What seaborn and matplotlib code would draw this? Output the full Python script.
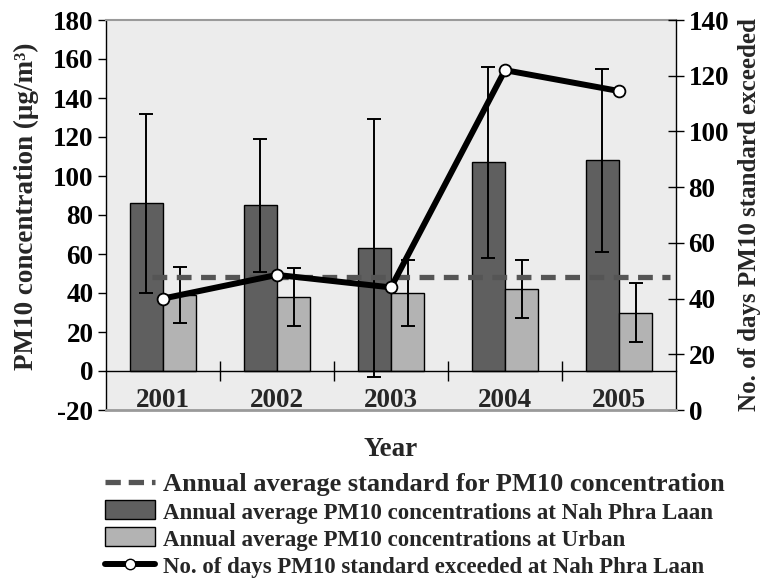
import matplotlib
matplotlib.use("Agg")
import matplotlib.pyplot as plt
import seaborn as sns
import numpy as np
import pandas as pd
from matplotlib.lines import Line2D
from matplotlib.patches import Patch

years = ["2001", "2002", "2003", "2004", "2005"]
nah_mean = [86, 85, 63, 107, 108]
nah_err = [46, 34, 66, 49, 47]
urban_mean = [39, 38, 40, 42, 30]
urban_err = [14.5, 15, 17, 15, 15]
days_exceeded = [40, 48.5, 44, 122, 114.5]
standard = 48

series_names = ["Annual average PM10 concentrations at Nah Phra Laan",
                "Annual average PM10 concentrations at Urban"]
std_label = "Annual average standard for PM10 concentration"
line_label = "No. of days PM10 standard exceeded at Nah Phra Laan"

sns.set_theme(style="white")
plt.rcParams['font.family'] = ['Liberation Serif', 'DejaVu Serif']
plt.rcParams['font.weight'] = 'bold'

dark = '#5f5f5f'
light = '#b3b3b3'

df = pd.DataFrame({
    "Year": years * 2,
    "value": nah_mean + urban_mean,
    "series": [series_names[0]] * 5 + [series_names[1]] * 5,
})

fig = plt.figure(figsize=(7.67, 5.88), dpi=100)
ax = fig.add_axes([106/767, 1-410/588, (676-106)/767, (410-20)/588])
ax.set_facecolor('#ececec')

sns.barplot(data=df, x="Year", y="value", hue="series", order=years,
            hue_order=series_names, palette=[dark, light], width=0.58,
            gap=0, errorbar=None, edgecolor='black', linewidth=1,
            ax=ax, legend=False, zorder=2)

patches = [p for p in ax.patches]
errs = nah_err + urban_err
means = nah_mean + urban_mean
for p, m, e in zip(patches, means, errs):
    cx = p.get_x() + p.get_width() / 2
    ax.errorbar(cx, m, yerr=e, color='black', lw=1.4, capsize=4.7,
                capthick=1.4, zorder=3)

ax.plot([-0.1, 4.45], [standard, standard], ls=(0, (2.8, 1.8)),
        color='#555555', lw=3.8, zorder=4)

ax.set_ylim(-20, 180)
ax.set_xlim(-0.5, 4.5)
ax.set_yticks(np.arange(-20, 181, 20))
ax.set_yticklabels([str(v) for v in range(-20, 181, 20)])
ax.tick_params(axis='y', which='major', direction='out', length=6, width=1,
               labelsize=19.5, pad=3, left=True, colors='black')
ax.spines['bottom'].set_position(('data', 0))
ax.spines['bottom'].set_color('black')
ax.spines['bottom'].set_linewidth(1)
ax.spines['left'].set_color('black')
ax.spines['left'].set_linewidth(1)
ax.spines['right'].set_visible(False)
ax.spines['top'].set_color('#9a9a9a')
ax.spines['top'].set_linewidth(1.5)

ax.set_xticks(range(5))
ax.set_xticklabels(years)
ax.set_xticks([0.5, 1.5, 2.5, 3.5], minor=True)
ax.tick_params(axis='x', which='major', length=0, pad=12, labelsize=19.5)
ax.tick_params(axis='x', which='minor', direction='inout', length=14,
               width=1, bottom=True, color='black')
ax.set_xlabel("Year", fontsize=19.5, fontweight='bold')
ax.xaxis.set_label_coords(0.5, -0.07)
ax.set_ylabel("PM10 concentration (μg/m³)", fontsize=19.5, fontweight='bold')
ax.yaxis.set_label_coords(-0.117, 0.523)

ax2 = ax.twinx()
sns.lineplot(x=list(range(5)), y=days_exceeded, ax=ax2, color='black', lw=4.3,
             marker='o', markersize=8.5, markerfacecolor='white',
             markeredgecolor='black', markeredgewidth=1.3, zorder=5)
ax2.set_ylim(0, 140)
ax2.set_yticks(np.arange(0, 141, 20))
ax2.tick_params(axis='y', direction='inout', length=12, width=1, labelsize=19.5,
                pad=3, right=True, colors='black')
for s in ['left', 'top']:
    ax2.spines[s].set_visible(False)
ax2.spines['right'].set_color('black')
ax2.spines['right'].set_linewidth(1)
ax2.spines['bottom'].set_color('#9a9a9a')
ax2.spines['bottom'].set_linewidth(2)
ax2.set_ylabel("No. of days PM10 standard exceeded", fontsize=18,
               fontweight='bold')
ax2.yaxis.set_label_coords(1.108, 0.5)
ax2.grid(False)
ax.grid(False)

handles = [
    Line2D([], [], ls=(0, (2.9, 1.5)), color='#555555', lw=3.8),
    Patch(facecolor=dark, edgecolor='black', lw=1),
    Patch(facecolor=light, edgecolor='black', lw=1),
    Line2D([], [], color='black', lw=4.3, marker='o', markersize=7.5,
           markerfacecolor='white', markeredgecolor='black'),
]
labels = [std_label, series_names[0], series_names[1], line_label]
leg = fig.legend(handles, labels, loc='upper left',
                 bbox_to_anchor=(105/767, 1-473/588), frameon=False,
                 fontsize=19, handlelength=1.9, handletextpad=0.3,
                 labelspacing=0.14, borderaxespad=0, borderpad=0)
for i, t in enumerate(leg.get_texts()):
    t.set_fontweight('bold')
    if i > 0:
        t.set_fontsize(16.5)

fig.savefig("out.png", dpi=100)
